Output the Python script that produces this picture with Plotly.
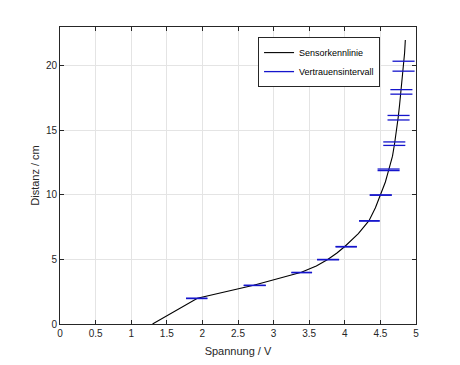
import plotly.graph_objects as go

# Sensor characteristic curve (voltage in V, distance in cm)
curve_v = [1.30, 1.93, 2.72, 3.39, 3.60, 3.76, 3.89, 4.00, 4.19, 4.34, 4.43, 4.50, 4.57,
           4.62, 4.67, 4.70, 4.73, 4.75, 4.77, 4.79, 4.81, 4.82, 4.84, 4.85]
curve_d = [0, 2, 3, 4, 4.5, 5, 5.5, 6, 7, 8, 9, 10, 11,
           12, 13, 14, 15, 16, 17, 18, 19, 20, 21, 22]

# Confidence intervals: lower/upper voltage, and the distance levels of the drawn bars
ci_low = [1.77, 2.58, 3.25, 3.61, 3.87, 4.20, 4.35, 4.46, 4.54, 4.60, 4.64, 4.67]
ci_high = [2.07, 2.89, 3.54, 3.92, 4.17, 4.49, 4.66, 4.77, 4.85, 4.91, 4.95, 4.98]
ci_d1 = [2.0, 3.0, 4.0, 5.0, 6.0, 8.0, 10.0, 12.0, 14.1, 16.15, 18.15, 20.35]
ci_d2 = [1.97, 2.98, 3.97, 4.97, 5.97, 7.97, 9.97, 11.88, 13.83, 15.8, 17.8, 19.58]

xs, ys = [], []
for lo, hi, a, b in zip(ci_low, ci_high, ci_d1, ci_d2):
    xs += [lo, hi, None, lo, hi, None]
    ys += [a, a, None, b, b, None]

fig = go.Figure()
fig.add_trace(go.Scatter(x=curve_v, y=curve_d, mode="lines", name="Sensorkennlinie",
                         line=dict(color="black", width=1.1)))
fig.add_trace(go.Scatter(x=xs, y=ys, mode="lines", name="Vertrauensintervall",
                         line=dict(color="#1515cc", width=1.3)))

axis_common = dict(showline=True, linecolor="#262626", linewidth=1, mirror="ticks",
                   ticks="inside", ticklen=4, tickcolor="#262626",
                   showgrid=True, gridcolor="#e4e4e4", gridwidth=1, zeroline=False,
                   tickfont=dict(family="Liberation Sans, Arial", size=10, color="#262626"))

fig.update_layout(
    width=460, height=365,
    margin=dict(l=52, r=52, t=19, b=49),
    paper_bgcolor="white", plot_bgcolor="white",
    font=dict(family="Liberation Sans, Arial", size=11, color="#262626"),
    xaxis=dict(range=[0, 5], tickvals=[0, 0.5, 1, 1.5, 2, 2.5, 3, 3.5, 4, 4.5, 5],
               ticktext=["0", "0.5", "1", "1.5", "2", "2.5", "3", "3.5", "4", "4.5", "5"],
               title=dict(text="Spannung / V", font=dict(size=11), standoff=9), **axis_common),
    yaxis=dict(range=[0, 23], tickvals=[0, 5, 10, 15, 20],
               title=dict(text="Distanz / cm", font=dict(size=11), standoff=4), **axis_common),
    legend=dict(x=0.899, y=0.966, xanchor="right", yanchor="top",
                bgcolor="white", bordercolor="#262626", borderwidth=1,
                font=dict(size=9, color="black"), tracegroupgap=0,
                itemwidth=30),
    showlegend=True,
)

fig.write_html("out.html")
